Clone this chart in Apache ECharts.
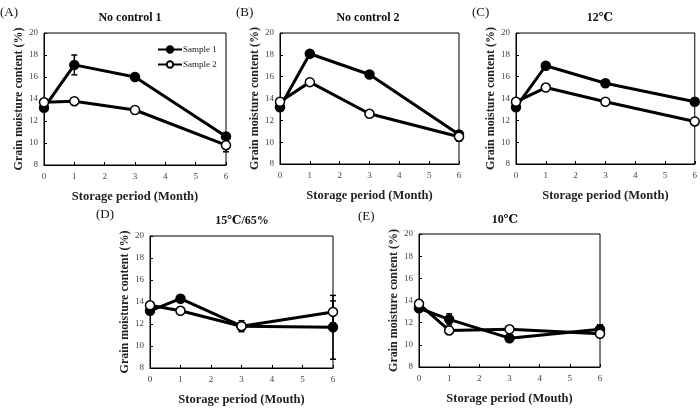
<!DOCTYPE html>
<html>
<head>
<meta charset="utf-8">
<script src="https://cdn.jsdelivr.net/npm/echarts@6/dist/echarts.min.js"></script>
<style>
  html, body { margin: 0; padding: 0; background: #fff; }
  #chart { width: 700px; height: 409px; }
</style>
</head>
<body>
<div id="chart"></div>
<script>
// storage months on the x axis
const months = [0, 1, 3, 6]
const xTicks = [0, 1, 2, 3, 4, 5, 6]
const yTicks = [8, 10, 12, 14, 16, 18, 20]

const panelTags = ['(A)', '(B)', '(C)', '(D)', '(E)']
const panelTitles = ['No control 1', 'No control 2', '12℃', '15℃/65%', '10℃']
const xNames = [
  'Storage period (Month)', 'Storage period (Month)', 'Storage period (Month)',
  'Storage period (Mouth)', 'Storage period (Mouth)'
]
const yName = 'Grain moisture content (%)'

// grain moisture (%) per panel, A..E
const sample1 = [
  [13.2, 17.1, 16.0, 10.6],
  [13.2, 18.1, 16.2, 10.7],
  [13.2, 17.0, 15.4, 13.7],
  [13.2, 14.3, 11.8, 11.7],
  [13.3, 12.3, 10.6, 11.4]
]
const sample2 = [
  [13.7, 13.8, 13.0, 9.8],
  [13.7, 15.5, 12.6, 10.5],
  [13.7, 15.0, 13.7, 11.9],
  [13.7, 13.2, 11.8, 13.1],
  [13.7, 11.3, 11.4, 11.0]
]
// standard deviations
const err1 = [
  [0.2, 0.9, 0.2, 0.2],
  [0.2, 0.2, 0.2, 0.2],
  [0.2, 0.2, 0.2, 0.2],
  [0.2, 0.3, 0.5, 2.9],
  [0.2, 0.5, 0.3, 0.4]
]
const err2 = [
  [0.2, 0.2, 0.2, 0.6],
  [0.2, 0.2, 0.2, 0.4],
  [0.2, 0.2, 0.2, 0.2],
  [0.2, 0.2, 0.2, 1.0],
  [0.2, 0.2, 0.2, 0.2]
]

// layout of the five plot boxes
const boxes = [
  { left: 44, top: 33, width: 182, height: 132 },
  { left: 280, top: 33, width: 179, height: 131 },
  { left: 516, top: 33, width: 181, height: 131 },
  { left: 150, top: 236, width: 183, height: 132 },
  { left: 419, top: 234, width: 181, height: 133 }
]
const titlePos = [[130, 18], [368, 18], [600, 18], [242, 221], [505, 220]]
const tagPos = [[0, 13], [236, 13], [472, 13], [96, 215], [358, 217]]

const serif = '"Liberation Serif", "DejaVu Serif", serif'

const chart = echarts.init(document.getElementById('chart'))

const grid = []
const xAxis = []
const yAxis = []
const series = []
const graphic = []

const errorBars = (data, errs, i, z) => ({
  type: 'custom',
  xAxisIndex: i,
  yAxisIndex: i,
  z: z,
  silent: true,
  data: months.map((m, k) => [m, data[k], errs[k]]),
  renderItem: (params, api) => {
    const x = api.value(0)
    const y = api.value(1)
    const e = api.value(2)
    const hi = api.coord([x, y + e])
    const lo = api.coord([x, y - e])
    const cap = 3
    const st = { stroke: '#000', lineWidth: 1.5 }
    return {
      type: 'group',
      children: [
        { type: 'line', shape: { x1: hi[0], y1: hi[1], x2: lo[0], y2: lo[1] }, style: st },
        { type: 'line', shape: { x1: hi[0] - cap, y1: hi[1], x2: hi[0] + cap, y2: hi[1] }, style: st },
        { type: 'line', shape: { x1: lo[0] - cap, y1: lo[1], x2: lo[0] + cap, y2: lo[1] }, style: st }
      ]
    }
  }
})

boxes.forEach((b, i) => {
  grid.push(Object.assign({ show: true, borderColor: '#000', borderWidth: 1, containLabel: false }, b))
  xAxis.push({
    type: 'value', gridIndex: i, min: 0, max: 6, interval: 1,
    name: xNames[i], nameLocation: 'middle', nameGap: 25,
    nameTextStyle: { fontFamily: serif, fontWeight: 'bold', fontSize: 12.5, color: '#222' },
    axisLine: { show: true, lineStyle: { color: '#000', width: 1 } },
    axisTick: { show: true, inside: true, length: 3, lineStyle: { color: '#000' } },
    axisLabel: { fontFamily: serif, fontSize: 9, color: '#444', margin: 7,
      formatter: v => xTicks.includes(v) ? String(v) : '' },
    splitLine: { show: false }
  })
  yAxis.push({
    type: 'value', gridIndex: i, min: 8, max: 20, interval: 2,
    name: yName, nameLocation: 'middle', nameGap: 19, nameRotate: 90,
    nameTextStyle: { fontFamily: serif, fontWeight: 'bold', fontSize: 12, color: '#222' },
    axisLine: { show: true, lineStyle: { color: '#000', width: 1 } },
    axisTick: { show: true, inside: true, length: 3, lineStyle: { color: '#000' } },
    axisLabel: { fontFamily: serif, fontSize: 9, color: '#444', margin: 6,
      formatter: v => yTicks.includes(v) ? String(v) : '' },
    splitLine: { show: false }
  })

  series.push(errorBars(sample1[i], err1[i], i, 1))
  series.push(errorBars(sample2[i], err2[i], i, 1))
  series.push({
    name: 'Sample 1', type: 'line', xAxisIndex: i, yAxisIndex: i, z: 3,
    data: months.map((m, k) => [m, sample1[i][k]]),
    symbol: 'circle', symbolSize: 9,
    lineStyle: { color: '#000', width: 3 },
    itemStyle: { color: '#000', borderColor: '#000', borderWidth: 1.5 },
    animation: false
  })
  series.push({
    name: 'Sample 2', type: 'line', xAxisIndex: i, yAxisIndex: i, z: 4,
    data: months.map((m, k) => [m, sample2[i][k]]),
    symbol: 'circle', symbolSize: 9,
    lineStyle: { color: '#000', width: 3 },
    itemStyle: { color: '#fff', borderColor: '#000', borderWidth: 1.5 },
    animation: false
  })

  graphic.push({
    type: 'text', x: titlePos[i][0], y: titlePos[i][1],
    style: { text: panelTitles[i], fill: '#111', font: 'bold 12px ' + serif,
      textAlign: 'center', textVerticalAlign: 'middle' }
  })
  graphic.push({
    type: 'text', x: tagPos[i][0], y: tagPos[i][1],
    style: { text: panelTags[i], fill: '#111', font: '13px ' + serif,
      textAlign: 'left', textVerticalAlign: 'middle' }
  })
})

chart.setOption({
  animation: false,
  backgroundColor: '#fff',
  grid: grid,
  xAxis: xAxis,
  yAxis: yAxis,
  series: series,
  graphic: graphic,
  legend: {
    data: ['Sample 1', 'Sample 2'],
    orient: 'vertical',
    left: 152,
    top: 40,
    itemWidth: 24,
    itemHeight: 8,
    itemGap: 6,
    textStyle: { fontFamily: serif, fontSize: 9, color: '#222', padding: [0, 0, 0, -4] },
    selectedMode: false
  }
})
</script>
</body>
</html>
